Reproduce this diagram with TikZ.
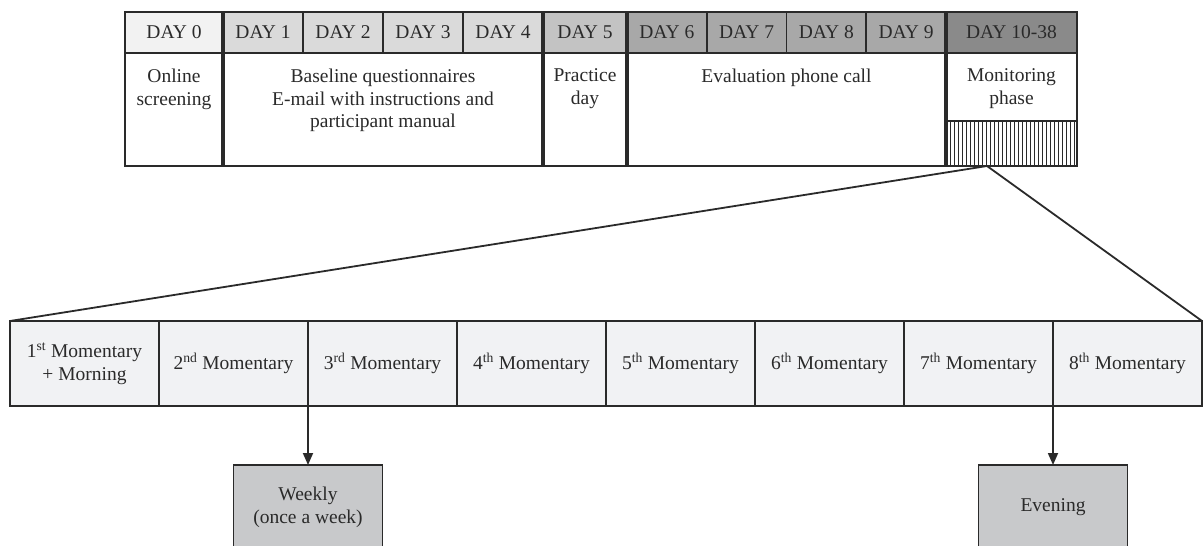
\documentclass[tikz,border=0pt]{standalone}
\usepackage{fontspec}
\setmainfont{Liberation Serif}
\usetikzlibrary{positioning,arrows.meta}
\definecolor{ink}{HTML}{2A2A2A}
\definecolor{day0}{HTML}{F2F2F2}
\definecolor{day1}{HTML}{DADADA}
\definecolor{day5}{HTML}{C3C3C3}
\definecolor{day6}{HTML}{A8A8A8}
\definecolor{day10}{HTML}{8A8A8A}
\definecolor{momfill}{HTML}{F1F2F4}
\definecolor{slotfill}{HTML}{C8C9CB}
\begin{document}
\begin{tikzpicture}[x=1pt,y=-1pt,>={Triangle[length=12pt,width=10pt]},
		every node/.style={font=\fontsize{19.5}{22.5}\selectfont,text=ink,inner sep=0pt,outer sep=0pt},
		line width=1.8pt,draw=ink]
		\tikzstyle{day}=[draw=ink,line width=1.6pt,minimum height=41pt,minimum width=80pt]
		\tikzstyle{phase}=[draw=ink,line width=1.8pt,fill=white]
		\tikzstyle{mom}=[draw=ink,line width=1.8pt,fill=momfill,minimum width=149pt,minimum height=85pt,align=center]
		\tikzstyle{slot}=[draw=ink,line width=1.8pt,fill=slotfill,minimum width=149pt,minimum height=85pt,align=center]
		\tikzstyle{sep}=[draw=ink,line width=4pt]
		\tikzstyle{hatch}=[draw=ink,line width=1pt]
		
		\useasboundingbox (0,0) rectangle (1203,546);
		\clip (0,0) rectangle (1203,546);
		
		% days
		\node[day,fill=day0,minimum width=98pt,anchor=north west] (d0) at (125,12) {DAY 0};
		\node[day,fill=day1,right=0pt of d0] (d1) {DAY 1};
		\node[day,fill=day1,right=0pt of d1] (d2) {DAY 2};
		\node[day,fill=day1,right=0pt of d2] (d3) {DAY 3};
		\node[day,fill=day1,right=0pt of d3] (d4) {DAY 4};
		\node[day,fill=day5,minimum width=84pt,right=0pt of d4] (d5) {DAY 5};
		\node[day,fill=day6,minimum width=79.75pt,right=0pt of d5] (d6) {DAY 6};
		\node[day,fill=day6,minimum width=79.75pt,right=0pt of d6] (d7) {DAY 7};
		\node[day,fill=day6,minimum width=79.75pt,right=0pt of d7] (d8) {DAY 8};
		\node[day,fill=day6,minimum width=79.75pt,right=0pt of d8] (d9) {DAY 9};
		\node[day,fill=day10,minimum width=131pt,right=0pt of d9] (d10) {DAY 10-38};
		
		% phases
		\node[phase,minimum width=98pt,minimum height=113pt,below=0pt of d0] (b0) {};
		\node[phase,minimum width=320pt,minimum height=113pt,anchor=north west] (b1) at (d1.south west) {};
		\node[phase,minimum width=84pt,minimum height=113pt,below=0pt of d5] (b5) {};
		\node[phase,minimum width=319pt,minimum height=113pt,anchor=north west] (b6) at (d6.south west) {};
		\node[phase,minimum width=131pt,minimum height=68pt,below=0pt of d10] (b10) {};
		\node[phase,minimum width=131pt,minimum height=45pt,below=0pt of b10] (hat) {};
		\foreach \i in {1,...,32}
			\draw[hatch] ([xshift=\i*4pt]hat.north west) -- ([xshift=\i*4pt]hat.south west);
		
		\node[below=16pt of b0.north,align=center] (t0) {Online\\screening};
		\node[below=16pt of b1.north,align=center] (t1) {Baseline questionnaires\\E-mail with instructions and\\participant manual};
		\node[below=16pt of b5.north,align=center] (t5) {Practice\\day};
		\node[below=16pt of b6.north,align=center] (t6) {Evaluation phone call};
		\node[below=16pt of b10.north,align=center] (t10) {Monitoring\\phase};
		
		\draw[sep] (d1.north west) -- (b1.south west);
		\draw[sep] (d5.north west) -- (b5.south west);
		\draw[sep] (d6.north west) -- (b6.south west);
		\draw[sep] (d10.north west) -- (hat.south west);
		
		% momentary
		\node[mom,anchor=north west] (m1) at (10,321) {1\textsuperscript{st} Momentary\\+ Morning};
		\node[mom,right=0pt of m1] (m2) {2\textsuperscript{nd} Momentary};
		\node[mom,right=0pt of m2] (m3) {3\textsuperscript{rd} Momentary};
		\node[mom,right=0pt of m3] (m4) {4\textsuperscript{th} Momentary};
		\node[mom,right=0pt of m4] (m5) {5\textsuperscript{th} Momentary};
		\node[mom,right=0pt of m5] (m6) {6\textsuperscript{th} Momentary};
		\node[mom,right=0pt of m6] (m7) {7\textsuperscript{th} Momentary};
		\node[mom,right=0pt of m7] (m8) {8\textsuperscript{th} Momentary};
		
		\coordinate (fan) at ([xshift=41pt]hat.south west);
		\draw (fan) -- (m1.north west);
		\draw (fan) -- (m8.north east);
		
		\node[slot,below=59pt of m3.south west] (wk) {Weekly\\(once a week)};
		\node[slot,below=59pt of m8.south west] (ev) {Evening};
		
		\draw[->] (m3.south west) -- (wk);
		\draw[->] (m8.south west) -- (ev);
\end{tikzpicture}
\end{document}
